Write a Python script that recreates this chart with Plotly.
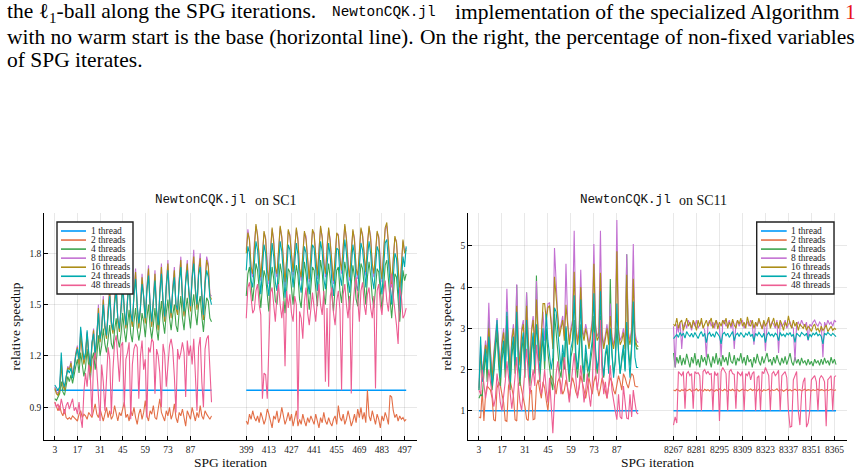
import plotly.graph_objects as go

W, H = 862, 472
SERIF = "Liberation Serif"
MONO = "Liberation Mono"

series_names = ["1 thread", "2 threads", "4 threads", "8 threads",
                "16 threads", "24 threads", "48 threads"]
colors = ["#009AFA", "#E36F47", "#3EA44E", "#C371D2", "#AC8E18", "#00AAAE", "#ED5E93"]

# ---------------- iterations ----------------
sc1_iters_a = list(range(3, 101))
sc1_iters_b = list(range(399, 499))
sc11_iters_a = list(range(3, 101))
sc11_iters_b = list(range(8267, 8367))

sc1_ticks_a = [3, 17, 31, 45, 59, 73, 87]
sc1_ticks_b = [399, 413, 427, 441, 455, 469, 483, 497]
sc11_ticks_a = [3, 17, 31, 45, 59, 73, 87]
sc11_ticks_b = [8267, 8281, 8295, 8309, 8323, 8337, 8351, 8365]

sc1_yticks = [0.9, 1.2, 1.5, 1.8]
sc11_yticks = [1, 2, 3, 4, 5]

# ---------------- SC1, first block (iterations 3..100) ----------------
sc1_a_t1 = [1.0] * 98
sc1_a_t2 = [0.93,0.90,0.88,0.91,0.87,0.85,0.89,0.84,0.83,0.84,
            0.83,0.85,0.84,0.83,0.82,0.86,0.88,0.84,0.86,0.85,
            0.83,0.87,0.85,0.84,0.88,0.92,0.86,0.84,0.89,0.85,
            0.82,0.86,0.90,0.84,0.88,0.83,0.85,0.91,0.86,0.82,
            0.87,0.85,0.89,0.93,0.84,0.86,0.82,0.88,0.85,0.90,
            0.84,0.80,0.86,0.89,0.83,0.87,0.94,0.85,0.82,0.88,
            0.86,0.91,0.84,0.83,0.89,0.95,0.87,0.84,0.82,0.88,
            0.85,0.90,0.83,0.86,0.92,0.84,0.81,0.87,0.85,0.89,
            0.84,0.79,0.88,0.86,0.83,0.90,0.85,0.82,0.87,0.84,
            0.91,0.85,0.83,0.88,0.86,0.84,0.83,0.85]
sc1_a_t4 = [0.95,0.94,0.96,0.98,1.05,0.99,0.97,1.03,1.08,1.05,
            1.09,1.04,1.10,1.14,1.18,1.10,1.22,1.15,1.08,1.13,
            1.24,1.14,1.06,1.18,1.22,1.12,1.20,1.32,1.20,1.26,
            1.36,1.27,1.22,1.30,1.38,1.27,1.24,1.35,1.42,1.30,
            1.25,1.33,1.45,1.35,1.28,1.38,1.47,1.33,1.28,1.40,
            1.48,1.36,1.29,1.35,1.45,1.40,1.31,1.42,1.50,1.37,
            1.30,1.38,1.48,1.36,1.29,1.42,1.52,1.40,1.33,1.45,
            1.53,1.42,1.35,1.44,1.50,1.38,1.34,1.46,1.55,1.42,
            1.35,1.47,1.54,1.44,1.36,1.48,1.56,1.45,1.38,1.50,
            1.55,1.43,1.34,1.46,1.54,1.52,1.42,1.40]
sc1_a_t8 = [1.02,0.99,0.98,1.01,1.17,1.04,1.01,1.07,1.14,1.12,
            1.17,1.09,1.14,1.22,1.26,1.16,1.35,1.23,1.16,1.21,
            1.34,1.21,1.11,1.27,1.36,1.19,1.31,1.50,1.29,1.36,
            1.55,1.37,1.31,1.48,1.60,1.39,1.34,1.54,1.64,1.41,
            1.35,1.49,1.66,1.47,1.37,1.54,1.69,1.44,1.38,1.57,
            1.71,1.49,1.37,1.49,1.68,1.55,1.40,1.60,1.73,1.49,
            1.38,1.53,1.70,1.46,1.36,1.58,1.74,1.51,1.41,1.62,
            1.76,1.54,1.43,1.60,1.72,1.49,1.45,1.65,1.78,1.54,
            1.44,1.65,1.76,1.57,1.47,1.67,1.82,1.59,1.48,1.70,
            1.80,1.56,1.42,1.64,1.78,1.74,1.56,1.55]
sc1_a_t16 = [1.01,0.98,0.97,1.00,1.15,1.03,1.00,1.06,1.13,1.12,
             1.16,1.08,1.13,1.21,1.25,1.15,1.33,1.22,1.15,1.20,
             1.33,1.20,1.10,1.26,1.35,1.18,1.30,1.48,1.28,1.35,
             1.53,1.36,1.30,1.47,1.58,1.38,1.33,1.52,1.62,1.40,
             1.34,1.48,1.64,1.46,1.36,1.53,1.67,1.43,1.37,1.56,
             1.69,1.48,1.36,1.48,1.66,1.54,1.39,1.59,1.71,1.48,
             1.37,1.52,1.68,1.45,1.35,1.57,1.72,1.50,1.40,1.61,
             1.74,1.53,1.42,1.59,1.70,1.48,1.44,1.64,1.76,1.53,
             1.43,1.64,1.74,1.56,1.46,1.66,1.78,1.58,1.47,1.69,
             1.77,1.55,1.41,1.63,1.76,1.72,1.55,1.53]
sc1_a_t24 = [1.03,1.01,1.00,1.02,1.22,1.05,1.02,1.08,1.12,1.10,
             1.13,1.07,1.15,1.20,1.24,1.18,1.37,1.25,1.18,1.22,
             1.35,1.22,1.14,1.28,1.33,1.20,1.31,1.45,1.30,1.36,
             1.50,1.38,1.32,1.46,1.55,1.40,1.35,1.50,1.58,1.42,
             1.36,1.47,1.60,1.48,1.38,1.52,1.63,1.45,1.40,1.55,
             1.65,1.50,1.39,1.48,1.62,1.55,1.42,1.58,1.67,1.50,
             1.40,1.52,1.64,1.47,1.38,1.56,1.68,1.52,1.43,1.60,
             1.70,1.55,1.45,1.58,1.66,1.50,1.47,1.62,1.72,1.55,
             1.46,1.63,1.70,1.58,1.49,1.65,1.74,1.60,1.50,1.67,
             1.72,1.56,1.44,1.62,1.70,1.66,1.54,1.50]
sc1_a_t48 = [0.93,0.90,0.92,0.88,0.95,0.90,0.86,0.91,0.93,0.89,
             0.92,0.95,0.88,0.90,0.86,0.93,0.84,0.78,0.99,1.10,
             1.02,1.15,1.08,0.85,1.18,1.22,1.12,0.96,0.82,1.15,
             1.05,0.88,1.10,1.25,1.18,0.86,1.12,1.28,1.32,1.20,
             1.05,1.26,1.28,0.90,1.18,1.22,1.28,0.83,1.15,1.24,
             1.27,1.25,0.95,1.20,1.29,1.12,1.18,0.84,1.25,1.22,
             1.30,1.28,0.98,1.24,1.20,1.10,0.90,1.27,1.21,1.02,
             1.12,1.26,1.30,1.24,1.08,0.87,1.24,1.18,1.22,1.28,
             1.22,0.96,1.29,1.20,1.26,1.15,1.30,1.10,0.88,1.25,
             1.31,1.05,0.90,1.24,1.30,1.32,1.10,0.93]

# ---------------- SC1, second block (iterations 399..498) ----------------
sc1_b_t1 = [1.0] * 100
sc1_b_t2 = [0.82,0.80,0.86,0.83,0.88,0.84,0.82,0.85,0.81,0.87,
            0.84,0.80,0.83,0.89,0.86,0.82,0.78,0.85,0.83,0.88,
            0.81,0.84,0.90,0.85,0.80,0.83,0.87,0.82,0.86,0.79,
            0.84,0.88,0.79,0.83,0.80,0.86,0.82,0.79,0.84,0.81,
            0.85,0.83,0.80,0.86,0.82,0.78,0.84,0.81,0.87,0.82,
            0.80,0.84,0.81,0.79,0.83,0.85,0.80,0.91,0.84,0.82,
            0.86,0.80,0.83,0.88,0.84,0.79,0.82,0.86,0.81,0.89,
            0.84,0.90,0.83,0.87,0.81,1.00,0.85,0.82,0.88,0.84,
            0.80,0.86,0.83,0.78,0.85,0.82,0.87,0.84,0.80,0.97,
            0.96,0.88,0.84,0.86,0.82,0.85,0.83,0.84,0.82,0.83]
sc1_b_t4 = [1.55,1.68,1.72,1.60,1.52,1.62,1.74,1.70,1.56,1.48,
            1.60,1.70,1.66,1.54,1.46,1.62,1.72,1.65,1.52,1.50,
            1.63,1.74,1.68,1.55,1.45,1.58,1.71,1.69,1.58,1.50,
            1.64,1.73,1.67,1.53,1.48,1.61,1.75,1.68,1.55,1.47,
            1.60,1.72,1.70,1.57,1.49,1.63,1.76,1.69,1.56,1.50,
            1.66,1.74,1.65,1.53,1.46,1.60,1.70,1.72,1.58,1.51,
            1.65,1.75,1.68,1.55,1.47,1.62,1.73,1.66,1.53,1.49,
            1.64,1.74,1.71,1.58,1.50,1.66,1.75,1.67,1.54,1.48,
            1.62,1.71,1.69,1.55,1.47,1.60,1.73,1.76,1.64,1.50,
            1.42,1.55,1.68,1.66,1.52,1.40,1.54,1.70,1.64,1.68]
sc1_b_t8 = [1.82,1.94,1.87,1.70,1.66,1.86,1.96,1.91,1.77,1.64,
            1.79,1.92,1.89,1.72,1.62,1.83,1.94,1.88,1.70,1.66,
            1.81,1.95,1.90,1.73,1.61,1.77,1.93,1.91,1.79,1.67,
            1.83,1.94,1.89,1.70,1.64,1.81,1.92,1.90,1.74,1.63,
            1.80,1.93,1.92,1.77,1.65,1.82,1.95,1.90,1.76,1.66,
            1.85,1.94,1.88,1.70,1.62,1.79,1.91,1.91,1.77,1.68,
            1.84,1.96,1.89,1.74,1.64,1.81,1.93,1.89,1.70,1.65,
            1.83,1.94,1.91,1.78,1.67,1.86,1.95,1.90,1.72,1.66,
            1.82,1.92,1.90,1.74,1.63,1.80,1.94,1.96,1.85,1.68,
            1.60,1.77,1.89,1.87,1.68,1.56,1.73,1.87,1.81,1.83]
sc1_b_t16 = [1.80,1.92,1.88,1.72,1.68,1.85,1.97,1.90,1.75,1.66,
             1.78,1.93,1.88,1.70,1.64,1.82,1.95,1.86,1.72,1.68,
             1.80,1.96,1.89,1.74,1.63,1.76,1.94,1.90,1.78,1.69,
             1.82,1.95,1.87,1.71,1.66,1.80,1.93,1.88,1.73,1.65,
             1.79,1.94,1.91,1.76,1.67,1.81,1.96,1.89,1.74,1.68,
             1.84,1.95,1.86,1.72,1.64,1.78,1.92,1.90,1.76,1.70,
             1.83,1.97,1.88,1.73,1.66,1.80,1.94,1.87,1.71,1.67,
             1.82,1.95,1.90,1.77,1.69,1.85,1.96,1.88,1.74,1.68,
             1.81,1.93,1.89,1.72,1.65,1.79,1.95,1.98,1.84,1.70,
             1.62,1.76,1.90,1.86,1.70,1.58,1.72,1.88,1.80,1.82]
sc1_b_t24 = [1.70,1.84,1.80,1.64,1.60,1.76,1.87,1.82,1.66,1.56,
             1.70,1.85,1.80,1.62,1.55,1.73,1.86,1.78,1.63,1.58,
             1.72,1.87,1.81,1.65,1.54,1.68,1.85,1.82,1.69,1.60,
             1.74,1.86,1.79,1.62,1.57,1.72,1.84,1.80,1.64,1.56,
             1.71,1.85,1.83,1.67,1.58,1.73,1.87,1.81,1.65,1.59,
             1.76,1.86,1.78,1.63,1.55,1.70,1.83,1.82,1.67,1.61,
             1.75,1.88,1.80,1.64,1.57,1.72,1.85,1.79,1.62,1.58,
             1.74,1.86,1.82,1.68,1.60,1.77,1.87,1.80,1.65,1.59,
             1.73,1.84,1.81,1.63,1.56,1.71,1.86,1.88,1.76,1.60,
             1.50,1.66,1.80,1.77,1.60,1.46,1.62,1.78,1.72,1.84]
sc1_b_t48 = [1.42,1.60,1.63,1.52,1.45,1.47,1.58,1.62,1.50,1.44,
             0.95,1.10,1.09,0.95,1.35,1.57,1.60,1.48,1.40,1.55,
             1.62,1.50,1.42,1.52,1.14,1.58,1.48,1.56,1.45,1.40,
             1.55,1.50,0.83,1.46,1.42,1.30,1.52,1.60,1.45,1.38,
             1.50,1.57,1.48,1.40,1.53,1.62,1.50,1.44,1.58,1.05,
             1.48,1.02,1.55,1.60,1.45,1.38,1.52,1.58,1.47,1.00,
             1.56,1.62,1.50,1.42,1.55,0.98,1.48,1.60,1.66,1.52,
             1.40,1.58,1.63,1.50,1.44,1.56,1.60,1.48,1.42,1.55,
             1.01,1.58,1.62,1.50,1.44,1.57,1.64,1.52,1.46,1.60,
             1.68,1.55,1.47,1.38,1.27,1.60,1.55,1.42,1.44,1.48]

# ---------------- SC11, first block (iterations 3..100) ----------------
sc11_a_t1 = [1.0] * 98
sc11_a_t2 = [0.85,0.82,1.50,0.75,1.40,1.60,1.55,1.50,1.30,0.78,
             0.75,1.55,1.70,1.60,1.40,1.20,0.76,0.74,1.60,1.72,
             1.55,1.35,0.78,0.75,1.65,1.70,1.50,1.30,1.10,0.80,
             0.76,1.45,1.50,0.78,0.80,1.60,1.75,1.50,1.30,1.70,
             1.55,1.25,1.00,1.50,1.85,1.75,1.55,1.40,1.70,1.80,
             1.60,1.40,1.50,1.75,1.55,1.30,1.60,1.80,1.65,1.45,
             1.35,1.55,1.85,1.70,1.50,1.30,1.60,1.80,1.60,1.40,
             1.70,1.85,1.60,1.35,1.55,1.80,1.65,1.45,1.30,1.60,
             1.80,1.70,1.50,1.40,1.65,1.85,1.70,1.50,1.90,1.80,
             1.65,1.55,1.75,1.90,1.85,1.60,1.58,1.58]
sc11_a_t4 = [1.30,1.40,1.35,1.90,2.40,1.70,3.20,2.00,1.50,1.90,
             2.50,2.90,2.10,1.60,2.20,2.60,1.80,3.00,2.30,1.50,
             2.30,2.70,1.90,4.05,2.10,1.60,2.40,2.80,1.80,3.87,
             2.30,1.60,2.40,2.80,1.90,4.28,2.50,1.70,2.30,2.80,
             2.00,3.00,2.40,2.00,1.70,1.50,3.35,2.90,2.50,2.00,
             1.80,2.40,2.00,3.00,2.20,1.70,2.30,2.50,3.20,2.20,
             1.80,2.30,3.10,2.10,1.70,2.40,2.00,1.80,2.20,2.50,
             3.30,2.30,1.90,2.20,3.30,2.10,1.80,2.30,2.50,2.00,
             4.20,2.40,1.90,2.20,3.00,2.30,1.90,2.20,2.50,2.00,
             4.80,2.50,2.10,2.60,3.40,2.70,2.50,2.50]
sc11_a_t8 = [1.55,2.60,1.90,2.30,2.70,2.40,3.62,2.50,1.80,2.40,
             2.90,3.25,2.60,2.10,2.70,3.00,2.40,3.96,2.70,2.00,
             2.80,3.10,2.50,4.07,2.60,2.20,3.00,3.20,2.40,3.87,
             2.80,2.10,3.00,3.30,2.60,4.15,3.00,2.30,2.90,3.40,
             2.70,3.30,3.60,3.62,3.20,2.60,4.95,3.90,3.30,2.90,
             3.10,3.30,2.80,4.57,3.20,2.70,3.00,3.20,5.37,3.10,
             2.70,3.00,4.42,3.00,2.80,3.10,2.90,2.60,2.90,3.20,
             5.05,3.10,2.80,2.90,5.37,2.90,2.60,2.90,3.10,2.70,
             3.60,2.80,2.60,2.90,5.63,3.00,2.70,2.80,3.00,2.60,
             4.80,2.90,2.70,3.00,5.05,2.90,2.70,2.65]
sc11_a_t16 = [1.50,2.40,1.85,2.20,2.60,2.30,3.00,2.40,1.75,2.30,
              2.80,3.10,2.50,2.00,2.60,2.90,2.30,3.30,2.60,1.95,
              2.70,3.00,2.40,3.55,2.50,2.10,2.90,3.10,2.30,3.55,
              2.70,2.00,2.90,3.20,2.50,3.70,2.90,2.20,2.80,3.60,
              3.60,3.20,3.50,3.55,3.10,2.50,4.25,3.80,3.20,2.80,
              3.00,3.20,2.70,3.57,3.10,2.60,2.90,3.10,4.37,3.00,
              2.60,2.90,4.00,2.90,2.70,3.00,2.80,2.50,2.80,3.10,
              4.57,3.00,2.70,2.80,4.35,2.80,2.50,2.80,3.00,2.60,
              3.30,2.70,2.50,2.80,4.87,2.90,2.60,2.70,2.90,2.50,
              4.30,2.80,2.60,2.90,4.20,2.80,2.60,2.55]
sc11_a_t24 = [1.50,2.80,1.70,2.10,2.50,2.00,2.80,2.20,1.60,2.00,
              2.60,3.20,2.30,1.80,2.40,2.70,2.00,3.40,2.30,1.70,
              2.50,2.80,2.10,3.40,2.20,1.80,2.60,2.90,2.00,3.20,
              2.40,1.80,2.50,2.90,2.10,3.10,2.60,1.90,2.50,3.00,
              2.20,3.35,2.70,2.40,2.00,2.30,3.50,3.40,2.90,2.30,
              2.00,2.60,2.20,3.05,2.40,1.90,2.50,2.70,3.80,2.40,
              2.00,2.50,3.70,2.30,1.90,2.60,2.20,1.95,2.40,2.70,
              3.85,2.50,2.00,2.30,3.90,2.20,1.85,2.40,2.60,1.90,
              3.00,2.30,1.80,2.20,3.60,2.40,1.90,2.30,2.60,1.95,
              3.15,2.40,1.80,2.50,3.65,2.30,2.05,2.05]
sc11_a_t48 = [1.50,1.40,2.00,1.60,1.30,1.55,2.00,1.70,1.40,1.10,
              1.30,1.90,1.60,1.20,1.00,1.30,1.70,2.20,1.80,1.30,
              1.05,1.40,1.90,2.30,1.60,1.20,1.00,1.50,2.20,2.50,
              1.90,1.40,1.70,2.00,1.60,2.60,2.20,1.80,1.40,1.60,
              2.00,1.50,1.20,1.80,1.10,0.45,1.30,1.90,2.20,1.70,
              1.40,1.80,2.30,1.90,1.50,1.20,1.60,2.00,2.40,1.80,
              1.30,1.60,2.10,1.70,1.20,1.50,1.90,1.40,1.10,1.60,
              2.90,2.00,1.50,1.80,3.20,1.90,1.40,1.70,1.30,1.60,
              2.10,1.50,1.20,1.00,0.78,1.40,0.85,0.80,1.60,1.20,
              0.82,0.80,1.40,0.85,1.50,1.20,0.95,0.92]

# ---------------- SC11, second block (iterations 8267..8366) ----------------
sc11_b_t1 = [1.0] * 100
sc11_b_t2 = [1.50,1.48,1.52,1.50,1.47,1.51,1.49,1.53,1.48,1.50,
             1.52,1.47,1.50,1.49,1.53,1.48,1.51,1.50,1.47,1.52,
             1.49,1.51,1.48,1.52,1.50,1.47,1.51,1.49,1.53,1.50,
             1.48,1.52,1.50,1.47,1.51,1.49,1.52,1.48,1.50,1.51,
             1.47,1.50,1.52,1.49,1.51,1.48,1.50,1.53,1.49,1.51,
             1.50,1.48,1.52,1.50,1.47,1.51,1.49,1.50,1.52,1.48,
             1.51,1.49,1.50,1.53,1.48,1.50,1.51,1.47,1.50,1.52,
             1.49,1.51,1.48,1.50,1.52,1.49,1.50,1.51,1.48,1.50,
             1.52,1.49,1.51,1.50,1.48,1.51,1.49,1.50,1.52,1.49,
             1.51,1.50,1.48,1.51,1.49,1.50,1.52,1.50,1.49,1.51]
sc11_b_t4 = [2.40,2.05,2.30,2.15,2.35,2.10,2.28,2.12,2.38,2.20,
             2.05,2.30,2.15,2.40,2.10,2.25,2.05,2.35,2.18,2.30,
             2.10,2.38,2.20,2.05,2.32,2.15,2.40,2.12,2.28,2.08,
             2.35,2.18,2.30,2.10,2.42,2.20,2.15,2.35,2.10,2.28,
             2.20,2.40,2.15,2.30,2.10,2.35,2.18,2.25,2.05,2.30,
             2.15,2.38,2.20,2.10,2.32,2.15,2.28,2.40,2.18,2.25,
             2.10,2.30,2.15,2.35,2.20,2.10,2.28,2.15,2.32,2.12,
             2.25,2.40,2.18,2.10,2.30,2.15,2.25,2.10,2.28,2.15,
             2.22,2.10,2.25,2.12,2.20,2.08,2.25,2.15,2.22,2.10,
             2.25,2.12,2.28,2.15,2.22,2.10,2.30,2.15,2.25,2.12]
sc11_b_t8 = [3.05,2.05,3.10,2.90,3.15,2.50,3.05,3.15,3.00,3.20,
             3.10,2.95,3.15,3.05,3.20,3.00,3.10,3.15,3.05,2.95,
             2.30,3.10,3.20,3.05,3.15,3.00,3.20,3.10,3.05,2.30,
             3.15,3.20,3.05,3.10,3.20,3.00,3.15,2.50,3.10,3.20,
             3.05,3.15,3.20,3.00,3.10,3.15,3.05,3.20,3.10,2.60,
             3.15,3.05,3.20,3.10,3.00,3.15,2.45,3.10,3.20,3.05,
             3.15,3.10,3.00,3.20,2.40,3.15,3.05,3.10,3.20,3.00,
             3.10,3.15,3.05,3.00,2.20,3.10,3.15,3.05,3.20,3.10,
             3.05,3.15,2.70,3.10,3.05,3.15,3.20,3.10,3.05,3.15,
             3.10,2.30,3.15,3.05,3.20,3.10,3.15,3.05,3.20,3.15]
sc11_b_t16 = [3.10,3.05,3.25,3.00,3.15,3.20,2.95,3.10,3.25,3.05,
              3.15,3.00,3.20,3.10,2.95,3.20,3.05,3.25,3.00,3.10,
              3.20,3.05,3.15,3.25,3.00,3.10,3.20,2.98,3.15,3.05,
              3.20,3.10,3.25,3.00,3.15,3.05,3.22,3.08,3.00,3.20,
              3.10,3.25,3.05,3.15,3.00,3.28,3.10,3.05,3.20,3.00,
              3.15,3.05,3.25,3.10,2.98,3.20,3.05,3.15,3.27,3.00,
              3.10,3.25,3.05,3.15,3.00,3.20,3.10,2.95,3.15,3.05,
              3.30,3.10,3.00,3.20,3.05,3.15,2.95,3.10,3.05,3.00,
              3.10,2.95,3.05,3.00,2.92,3.05,3.10,2.95,3.00,2.90,
              3.05,2.95,3.00,3.08,2.92,2.98,3.05,2.95,3.00,2.97]
sc11_b_t24 = [2.75,2.80,2.85,2.78,2.90,2.82,2.88,2.76,2.92,2.85,
              2.80,2.88,2.78,2.90,2.83,2.75,2.86,2.92,2.80,2.88,
              2.65,2.85,2.90,2.80,2.87,2.78,2.92,2.84,2.80,2.62,
              2.86,2.90,2.82,2.88,2.78,2.85,2.92,2.70,2.84,2.88,
              2.80,2.90,2.85,2.78,2.88,2.83,2.92,2.80,2.86,2.68,
              2.88,2.82,2.90,2.85,2.78,2.88,2.65,2.84,2.90,2.82,
              2.86,2.80,2.88,2.84,2.70,2.90,2.82,2.86,2.80,2.88,
              2.84,2.90,2.80,2.86,2.66,2.88,2.84,2.80,2.90,2.85,
              2.82,2.88,2.72,2.86,2.80,2.88,2.84,2.90,2.82,2.86,
              2.80,2.62,2.88,2.84,2.90,2.86,2.82,2.88,2.84,2.80]
sc11_b_t48 = [0.65,0.85,0.70,1.95,1.90,1.85,1.95,1.05,1.90,1.95,
              1.85,1.90,1.05,1.95,1.90,1.92,1.85,1.00,1.95,2.00,
              1.90,1.95,1.88,1.90,1.00,1.95,1.85,1.92,0.75,1.95,
              2.05,1.98,1.90,1.00,1.95,2.00,1.90,1.88,1.05,1.95,
              1.90,1.85,1.95,1.00,1.90,1.85,1.95,1.75,1.90,1.95,
              1.00,1.80,1.85,1.00,1.95,1.90,2.05,1.95,1.85,1.00,
              1.90,1.95,1.85,1.90,1.98,1.00,1.85,1.90,1.95,1.80,
              1.00,0.60,0.62,1.75,1.85,1.95,1.00,0.65,1.40,1.70,
              1.80,0.60,0.70,1.00,1.75,1.80,1.85,1.70,1.00,1.78,
              1.85,1.80,1.70,0.62,1.75,1.80,1.85,1.00,1.82,1.85]

sc1_a = [sc1_a_t1, sc1_a_t2, sc1_a_t4, sc1_a_t8, sc1_a_t16, sc1_a_t24, sc1_a_t48]
sc1_b = [sc1_b_t1, sc1_b_t2, sc1_b_t4, sc1_b_t8, sc1_b_t16, sc1_b_t24, sc1_b_t48]
sc11_a = [sc11_a_t1, sc11_a_t2, sc11_a_t4, sc11_a_t8, sc11_a_t16, sc11_a_t24, sc11_a_t48]
sc11_b = [sc11_b_t1, sc11_b_t2, sc11_b_t4, sc11_b_t8, sc11_b_t16, sc11_b_t24, sc11_b_t48]

# broken axis: the second block is shifted to sit right after a gap
GAP_POS = 121.5


def pos_a(iters):
    return list(iters)


def pos_b(iters):
    s = iters[0]
    return [GAP_POS + (i - s) for i in iters]


def px(x):
    return x / W


def py(y):
    return 1 - y / H


fig = go.Figure()

panels = [
    dict(xa="x", ya="y", ia=sc1_iters_a, ib=sc1_iters_b, A=sc1_a, B=sc1_b),
    dict(xa="x2", ya="y2", ia=sc11_iters_a, ib=sc11_iters_b, A=sc11_a, B=sc11_b),
]
for p in panels:
    xa_pos = pos_a(p["ia"])
    xb_pos = pos_b(p["ib"])
    for k in range(7):
        ya = p["A"][k]
        yb = p["B"][k]
        fig.add_trace(go.Scatter(
            x=xa_pos[:len(ya)] + [None] + xb_pos[:len(yb)],
            y=ya + [None] + yb,
            mode="lines", name=series_names[k],
            line=dict(color=colors[k], width=1.4 if k == 0 else 1.1),
            connectgaps=False, showlegend=False,
            xaxis=p["xa"], yaxis=p["ya"], hoverinfo="skip"))

TOP, BOT = 213, 440
dom1 = [px(44.3), px(416.7)]
dom2 = [px(468.3), px(846.7)]
ydom = [py(BOT), py(TOP)]

tickfont = dict(family=SERIF, size=9.5, color="#222")
grid = "rgba(0,0,0,0.09)"
titlefont = dict(family=SERIF, size=13.5, color="#111")


def xaxis(domain, ta, tb, anchor):
    vals = pos_a(ta) + [GAP_POS + (t - tb[0]) for t in tb]
    txt = [str(t) for t in ta + tb]
    return dict(domain=domain, range=[-3.5, 227], anchor=anchor,
                tickmode="array", tickvals=vals, ticktext=txt,
                ticks="inside", ticklen=4, tickwidth=1, tickcolor="black",
                showline=True, linecolor="black", linewidth=1.3,
                showgrid=True, gridcolor=grid, gridwidth=1, zeroline=False,
                tickfont=tickfont,
                title=dict(text="SPG iteration", font=titlefont, standoff=1))


def yaxis(rng, ticks, anchor):
    return dict(domain=ydom, range=rng, anchor=anchor,
                tickmode="array", tickvals=ticks, ticktext=[str(t) for t in ticks],
                ticks="inside", ticklen=4, tickwidth=1, tickcolor="black",
                showline=True, linecolor="black", linewidth=1.3,
                showgrid=True, gridcolor=grid, gridwidth=1, zeroline=False,
                tickfont=tickfont,
                title=dict(text="relative speedup", font=titlefont, standoff=5))


fig.update_layout(
    width=W, height=H, margin=dict(l=0, r=0, t=0, b=0),
    paper_bgcolor="white", plot_bgcolor="white", template="none",
    showlegend=False,
    xaxis=xaxis(dom1, sc1_ticks_a, sc1_ticks_b, "y"),
    yaxis=yaxis([0.709, 2.035], sc1_yticks, "x"),
    xaxis2=xaxis(dom2, sc11_ticks_a, sc11_ticks_b, "y2"),
    yaxis2=yaxis([0.288, 5.80], sc11_yticks, "x2"),
)

ann = []
shapes = []

# subplot titles: typewriter package name + roman text
for xsplit, lab in [(250.5, "on SC1"), (674.5, "on SC11")]:
    ann.append(dict(x=px(xsplit - 2), y=py(200), xref="paper", yref="paper",
                    xanchor="right", yanchor="middle", showarrow=False,
                    text="NewtonCQK.jl", font=dict(family=MONO, size=12.6, color="#111")))
    ann.append(dict(x=px(xsplit + 2), y=py(200.5), xref="paper", yref="paper",
                    xanchor="left", yanchor="middle", showarrow=False,
                    text=lab, font=dict(family=SERIF, size=14, color="#111")))

# legends (drawn as a boxed key)
for (bx0, bx1, lx0, lx1, tx) in [(57, 133, 61, 86, 88.5), (756.7, 834, 761, 786.7, 789)]:
    shapes.append(dict(type="rect", xref="paper", yref="paper",
                       x0=px(bx0), x1=px(bx1), y0=py(294), y1=py(222),
                       line=dict(color="#222", width=1.4), fillcolor="white", layer="above"))
    for k in range(7):
        yy = 231 + k * 9.05
        shapes.append(dict(type="line", xref="paper", yref="paper",
                           x0=px(lx0), x1=px(lx1), y0=py(yy), y1=py(yy),
                           line=dict(color=colors[k], width=1.6), layer="above"))
        ann.append(dict(x=px(tx), y=py(yy), xref="paper", yref="paper",
                        xanchor="left", yanchor="middle", showarrow=False,
                        text=series_names[k], font=dict(family=SERIF, size=9.5, color="#222")))

# caption text of the page
cap = dict(family=SERIF, size=21.5, color="black")
ann += [
    dict(x=px(5), y=py(12), xref="paper", yref="paper", xanchor="left", yanchor="middle",
         showarrow=False, font=cap, text="the ℓ<sub>1</sub>-ball along the SPG iterations."),
    dict(x=px(330), y=py(12.5), xref="paper", yref="paper", xanchor="left", yanchor="middle",
         showarrow=False, font=dict(family=MONO, size=14.4, color="black"), text="NewtonCQK.jl"),
    dict(x=px(858), y=py(12), xref="paper", yref="paper", xanchor="right", yanchor="middle",
         showarrow=False, font=cap,
         text='implementation of the specialized Algorithm <span style="color:#e8131b">1</span>'),
    dict(x=px(5), y=py(37), xref="paper", yref="paper", xanchor="left", yanchor="middle",
         showarrow=False, font=cap, text="with no warm start is the base (horizontal line)."),
    dict(x=px(857), y=py(37), xref="paper", yref="paper", xanchor="right", yanchor="middle",
         showarrow=False, font=cap, text="On the right, the percentage of non-fixed variables"),
    dict(x=px(5), y=py(60), xref="paper", yref="paper", xanchor="left", yanchor="middle",
         showarrow=False, font=cap, text="of SPG iterates."),
]

fig.update_layout(annotations=ann, shapes=shapes)
fig.write_html("out.html")
